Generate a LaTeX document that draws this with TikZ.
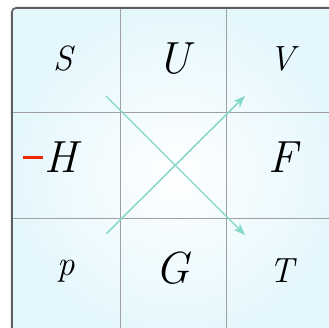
\documentclass[tikz,border=0pt]{standalone}
\usetikzlibrary{arrows.meta}
\definecolor{bgout}{RGB}{228,247,253}
\definecolor{gridc}{RGB}{160,160,160}
\definecolor{arrc}{RGB}{128,214,200}
\definecolor{framec}{RGB}{95,95,95}
\definecolor{minusc}{RGB}{240,40,10}
\tikzset{
  small/.style={anchor=base,inner sep=0pt,font=\fontsize{35}{40}\selectfont\itshape},
  big/.style={anchor=base,inner sep=0pt,font=\fontsize{45}{50}\selectfont\itshape},
  gridline/.style={draw=gridc,line width=0.9pt},
  diag/.style={draw=arrc,line width=1.4pt,-{Stealth[length=12pt,width=9pt]}},
}
\begin{document}
\begin{tikzpicture}[x=1pt,y=-1pt]
\useasboundingbox (0,0) rectangle (329,328);
\clip (0,0) rectangle (329,328);
% shadow
\draw[line width=4pt,black!8,rounded corners=4pt] (12,8) rectangle (340,340);
% background
\shade[inner color=white,outer color=bgout,rounded corners=4pt] (12,8) rectangle (340,340);
% grid
\draw[gridline] (120,8) -- (120,340);
\draw[gridline] (226,8) -- (226,340);
\draw[gridline] (12,112) -- (340,112);
\draw[gridline] (12,218) -- (340,218);
% frame
\draw[framec,line width=1.6pt,rounded corners=4pt] (12,8) rectangle (340,340);
% labels
\node[small] (S) at (63.5,71) {S};
\node[big] (U) at (174,74) {U};
\node[small] (V) at (282,71) {V};
\node[big] (H) at (50,173) {{\color{minusc}\rule[14pt]{20pt}{2.6pt}}\kern1pt H};
\node[big] (F) at (283,173) {F};
\node[small] (p) at (66,276) {p};
\node[big] (G) at (173,284) {G};
\node[small] (T) at (282,283) {T};
% arrows
\coordinate (a1) at (106,96);
\coordinate (b1) at (245,235);
\coordinate (a2) at (106,234);
\coordinate (b2) at (245,96);
\draw[diag] (a1) -- (b1);
\draw[diag] (a2) -- (b2);
\end{tikzpicture}
\end{document}
